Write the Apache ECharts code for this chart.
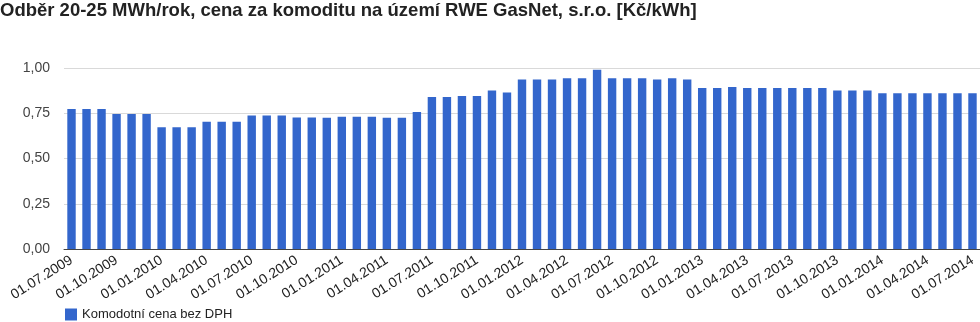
<!DOCTYPE html>
<html><head><meta charset="utf-8">
<script src="https://cdn.jsdelivr.net/npm/echarts@6/dist/echarts.min.js"></script>
<style>html,body{margin:0;padding:0;background:#fff}#c{width:980px;height:322px}</style>
</head><body><div id="c"></div>
<script>
const categories = [
"01.07.2009","01.08.2009","01.09.2009","01.10.2009","01.11.2009","01.12.2009",
"01.01.2010","01.02.2010","01.03.2010","01.04.2010","01.05.2010","01.06.2010",
"01.07.2010","01.08.2010","01.09.2010","01.10.2010","01.11.2010","01.12.2010",
"01.01.2011","01.02.2011","01.03.2011","01.04.2011","01.05.2011","01.06.2011",
"01.07.2011","01.08.2011","01.09.2011","01.10.2011","01.11.2011","01.12.2011",
"01.01.2012","01.02.2012","01.03.2012","01.04.2012","01.05.2012","01.06.2012",
"01.07.2012","01.08.2012","01.09.2012","01.10.2012","01.11.2012","01.12.2012",
"01.01.2013","01.02.2013","01.03.2013","01.04.2013","01.05.2013","01.06.2013",
"01.07.2013","01.08.2013","01.09.2013","01.10.2013","01.11.2013","01.12.2013",
"01.01.2014","01.02.2014","01.03.2014","01.04.2014","01.05.2014","01.06.2014",
"01.07.2014"];
const seriesName = "Komodotní cena bez DPH";
const values = [
0.773,0.773,0.773,0.746,0.746,0.746,
0.672,0.672,0.672,0.703,0.703,0.703,
0.738,0.738,0.738,0.727,0.727,0.725,
0.731,0.731,0.731,0.725,0.725,0.757,
0.840,0.840,0.845,0.845,0.876,0.864,
0.937,0.937,0.937,0.943,0.943,0.991,
0.943,0.943,0.943,0.937,0.943,0.937,
0.889,0.889,0.895,0.889,0.889,0.889,
0.889,0.889,0.889,0.876,0.876,0.876,
0.860,0.860,0.860,0.860,0.860,0.860,
0.860];
const yTicks = {min:0, max:1, interval:0.25};
const titleText = "Odběr 20-25 MWh/rok, cena za komoditu na území RWE GasNet, s.r.o. [Kč/kWh]";

const FONT = "'Liberation Sans', Arial, sans-serif";
const chart = echarts.init(document.getElementById('c'), null, {renderer:'canvas'});
chart.setOption({
  animation:false,
  title:{text:titleText,left:0,top:1,padding:0,
    textStyle:{fontFamily:FONT,fontSize:18.5,fontWeight:'bold',color:'#222'}},
  grid:{left:64,right:0,top:68,bottom:73,containLabel:false},
  legend:{left:60,top:308,itemWidth:12,itemHeight:12,itemGap:6,icon:'rect',padding:[0,5],
    textStyle:{fontFamily:FONT,fontSize:13,color:'#222'},data:[seriesName]},
  xAxis:{type:'category',data:categories,
    axisLine:{lineStyle:{color:'#444',width:1}},
    axisTick:{show:false},
    axisLabel:{interval:2,rotate:32,margin:10,fontFamily:FONT,fontSize:14,color:'#222'}},
  yAxis:{type:'value',min:yTicks.min,max:yTicks.max,interval:yTicks.interval,
    axisLine:{show:false},axisTick:{show:false},
    splitLine:{lineStyle:{color:'#d9d9d9'}},
    axisLabel:{margin:14,fontFamily:FONT,fontSize:14,color:'#444',
      formatter:v=>v.toFixed(2).replace('.',',')}},
  series:[{name:seriesName,type:'bar',data:values,barWidth:'56%',
    itemStyle:{color:'#3366cc'}}]
});
</script></body></html>
